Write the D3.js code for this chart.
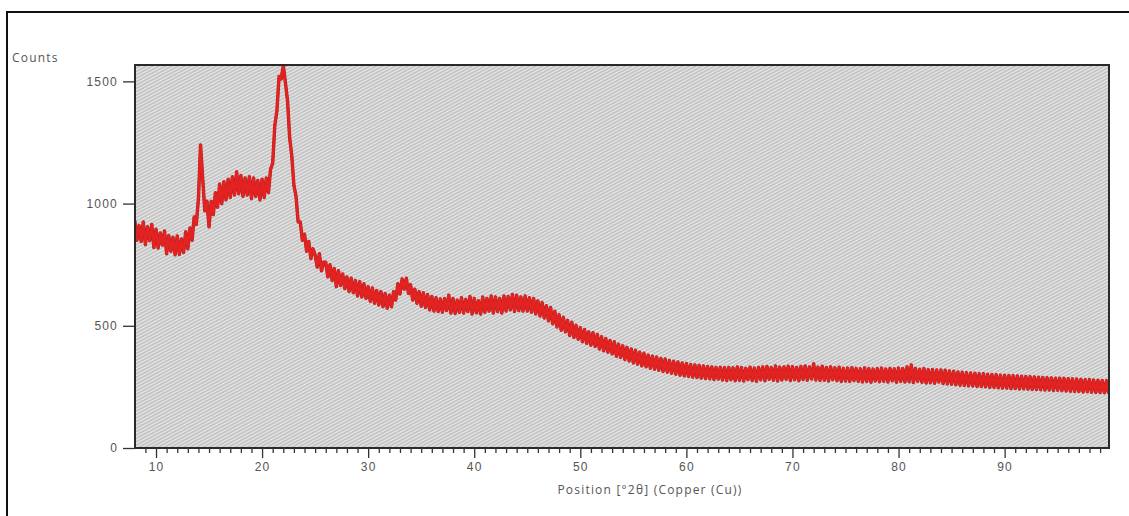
<!DOCTYPE html>
<html>
<head>
<meta charset="utf-8">
<script src="https://cdn.jsdelivr.net/npm/d3@7"></script>
<style>
  html, body { margin: 0; padding: 0; background: #fff; }
  svg { display: block; font-family: "Open Sans", "DejaVu Sans", sans-serif; }
</style>
</head>
<body>
<svg id="chart" width="1129" height="516"></svg>
<script>
// ---- data ----
const startAngle = 8.0;   // first scan position, °2θ
const stepSize = 0.2;     // scan step, °2θ
const counts = [
  930, 850, 910, 845, 925,   // 8
  832, 905, 848, 915, 820,   // 9
  895, 818, 880, 830, 888,   // 10
  795, 870, 805, 862, 790,   // 11
  868, 792, 855, 800, 885,   // 12
  815, 900, 850, 945, 915,   // 13
  1020, 1240, 1105, 970, 1010, // 14
  905, 1010, 955, 1045, 985, // 15
  1080, 1000, 1090, 1015, 1100, // 16
  1025, 1110, 1035, 1130, 1040, // 17
  1115, 1030, 1105, 1035, 1110, // 18
  1020, 1105, 1030, 1095, 1015, // 19
  1100, 1025, 1105, 1045, 1140, // 20
  1165, 1320, 1380, 1520, 1510, // 21
  1565, 1495, 1420, 1270, 1195, // 22
  1075, 1030, 925, 925, 850,  // 23
  875, 805, 845, 775, 815,   // 24
  790, 740, 795, 725, 760,   // 25
  760, 700, 750, 685, 735,   // 26
  660, 725, 665, 712, 652,   // 27
  700, 640, 695, 635, 685,   // 28
  622, 680, 618, 672, 612,   // 29
  660, 600, 655, 592, 645,   // 30
  585, 640, 578, 632, 572,   // 31
  625, 578, 640, 605, 672,   // 32
  630, 692, 650, 695, 632,   // 33
  668, 605, 650, 592, 640,   // 34
  580, 635, 575, 628, 565,   // 35
  620, 560, 615, 558, 610,   // 36
  555, 612, 562, 625, 552,   // 37
  612, 550, 605, 555, 615,   // 38
  552, 608, 558, 620, 548,   // 39
  612, 553, 603, 548, 618,   // 40
  555, 612, 560, 622, 552,   // 41
  618, 558, 612, 552, 622,   // 42
  560, 620, 565, 628, 558,   // 43
  625, 562, 618, 560, 622,   // 44
  560, 615, 555, 612, 548,   // 45
  602, 540, 595, 532, 582,   // 46
  520, 575, 508, 560, 495,   // 47
  545, 482, 535, 475, 522,   // 48
  460, 515, 452, 502, 445,   // 49
  492, 435, 485, 428, 475,   // 50
  420, 472, 415, 465, 405,   // 51
  455, 398, 448, 392, 440,   // 52
  385, 435, 375, 425, 370,   // 53
  418, 362, 412, 356, 405,   // 54
  348, 400, 343, 392, 336,   // 55
  388, 332, 380, 326, 376,   // 56
  322, 372, 318, 366, 313,   // 57
  364, 310, 358, 306, 355,   // 58
  302, 352, 298, 348, 295,   // 59
  346, 293, 342, 290, 340,   // 60
  288, 338, 286, 336, 284,   // 61
  334, 283, 332, 280, 330,   // 62
  282, 330, 278, 329, 276,   // 63
  330, 279, 328, 275, 332,   // 64
  277, 329, 274, 326, 280,   // 65
  331, 276, 327, 273, 330,   // 66
  279, 332, 275, 334, 281,   // 67
  329, 277, 336, 274, 331,   // 68
  278, 332, 281, 335, 276,   // 69
  333, 279, 330, 275, 334,   // 70
  280, 336, 277, 332, 282,   // 71
  345, 278, 331, 276, 335,   // 72
  277, 330, 274, 332, 279,   // 73
  328, 275, 331, 272, 326,   // 74
  274, 327, 272, 329, 276,   // 75
  326, 273, 324, 270, 328,   // 76
  272, 325, 269, 323, 274,   // 77
  325, 271, 327, 273, 323,   // 78
  270, 326, 275, 324, 269,   // 79
  327, 272, 325, 270, 332,   // 80
  271, 340, 268, 326, 273,   // 81
  322, 269, 325, 266, 320,   // 82
  267, 321, 265, 319, 270,   // 83
  319, 264, 318, 262, 315,   // 84
  261, 314, 259, 311, 257,   // 85
  310, 256, 308, 254, 307,   // 86
  254, 306, 252, 304, 251,   // 87
  304, 250, 302, 248, 301,   // 88
  248, 300, 246, 298, 245,   // 89
  298, 245, 297, 243, 296,   // 90
  243, 295, 241, 294, 242,   // 91
  293, 241, 292, 239, 291,   // 92
  239, 290, 238, 289, 237,   // 93
  288, 237, 287, 235, 286,   // 94
  236, 286, 234, 285, 233,   // 95
  284, 232, 283, 231, 282,   // 96
  231, 281, 229, 280, 230,   // 97
  280, 228, 278, 227, 277,   // 98
  227, 276, 226, 275, 224    // 99
];
const xTickValues = [10, 20, 30, 40, 50, 60, 70, 80, 90];
const yTickValues = [0, 500, 1000, 1500];
const xDomain = [8.02, 99.84];
const yDomain = [0, 1567];
const yAxisTitle = "Counts";
const xAxisTitle = "Position [°2θ] (Copper (Cu))";

// ---- layout ----
const svg = d3.select("#chart");
const plot = { left: 135, right: 1109, top: 65, bottom: 448 };
const labelFont = { size: 12, spacing: 1.2, color: "#555" };

const x = d3.scaleLinear().domain(xDomain).range([plot.left, plot.right]);
const y = d3.scaleLinear().domain(yDomain).range([plot.bottom, plot.top]);

// outer frame (left + top lines)
svg.append("line").attr("x1", 7).attr("x2", 7).attr("y1", 12).attr("y2", 516)
  .attr("stroke", "#111").attr("stroke-width", 2);
svg.append("line").attr("x1", 6).attr("x2", 1129).attr("y1", 12).attr("y2", 12)
  .attr("stroke", "#111").attr("stroke-width", 2);

// hatch pattern
const defs = svg.append("defs");
const pat = defs.append("pattern")
  .attr("id", "hatch")
  .attr("patternUnits", "userSpaceOnUse")
  .attr("width", 8).attr("height", 3)
  .attr("patternTransform", "rotate(-28)");
pat.append("rect").attr("width", 8).attr("height", 3).attr("fill", "#ebebeb");
pat.append("line").attr("x1", 0).attr("x2", 8).attr("y1", 1).attr("y2", 1)
  .attr("stroke", "#a6a6a6").attr("stroke-width", 1.1);

defs.append("clipPath").attr("id", "clip")
  .append("rect").attr("x", plot.left).attr("y", plot.top)
  .attr("width", plot.right - plot.left).attr("height", plot.bottom - plot.top);

svg.append("rect")
  .attr("x", plot.left).attr("y", plot.top)
  .attr("width", plot.right - plot.left).attr("height", plot.bottom - plot.top)
  .attr("fill", "url(#hatch)");

// data line (thick stroke so the dense noise reads as a solid band)
const pts = counts.map((c, i) => ({ pos: startAngle + i * stepSize, c }));
const line = d3.line().x(d => x(d.pos)).y(d => y(d.c));
svg.append("path")
  .datum(pts)
  .attr("clip-path", "url(#clip)")
  .attr("fill", "none")
  .attr("stroke", "#b82020")
  .attr("stroke-width", 3.4)
  .attr("stroke-linejoin", "round")
  .attr("d", line);
svg.append("path")
  .datum(pts)
  .attr("clip-path", "url(#clip)")
  .attr("fill", "none")
  .attr("stroke", "#e32222")
  .attr("stroke-width", 2.5)
  .attr("stroke-linejoin", "round")
  .attr("d", line);

// plot border
svg.append("rect")
  .attr("x", plot.left).attr("y", plot.top)
  .attr("width", plot.right - plot.left).attr("height", plot.bottom - plot.top)
  .attr("fill", "none").attr("stroke", "#2a2a2a").attr("stroke-width", 2);

// x axis: minor ticks every 1°
const minorTicks = d3.range(9, 100, 1).filter(v => v % 10 !== 0);
const xMinor = svg.append("g").attr("transform", `translate(0,${plot.bottom})`)
  .call(d3.axisBottom(x).tickValues(minorTicks).tickSize(5).tickFormat(""));
const xMajor = svg.append("g").attr("transform", `translate(0,${plot.bottom})`)
  .call(d3.axisBottom(x).tickValues(xTickValues).tickSize(10).tickPadding(4).tickFormat(d3.format("d")));
[xMinor, xMajor].forEach(g => {
  g.select(".domain").remove();
  g.selectAll(".tick line").attr("stroke", "#333").attr("stroke-width", 1.3);
});
xMajor.selectAll(".tick text").attr("fill", labelFont.color)
  .attr("font-size", labelFont.size).attr("letter-spacing", labelFont.spacing);

// y axis
const yAx = svg.append("g").attr("transform", `translate(${plot.left},0)`)
  .call(d3.axisLeft(y).tickValues(yTickValues).tickSize(12).tickPadding(5).tickFormat(d3.format("d")));
yAx.select(".domain").remove();
yAx.selectAll(".tick line").attr("stroke", "#333").attr("stroke-width", 1.3);
yAx.selectAll(".tick text").attr("fill", labelFont.color)
  .attr("font-size", labelFont.size).attr("letter-spacing", labelFont.spacing);

// titles
svg.append("text").attr("x", 12).attr("y", 62)
  .attr("font-size", labelFont.size).attr("letter-spacing", labelFont.spacing)
  .attr("fill", labelFont.color).text(yAxisTitle);
svg.append("text").attr("x", 650).attr("y", 494).attr("text-anchor", "middle")
  .attr("font-size", labelFont.size).attr("letter-spacing", labelFont.spacing)
  .attr("fill", labelFont.color).text(xAxisTitle);
</script>
</body>
</html>
